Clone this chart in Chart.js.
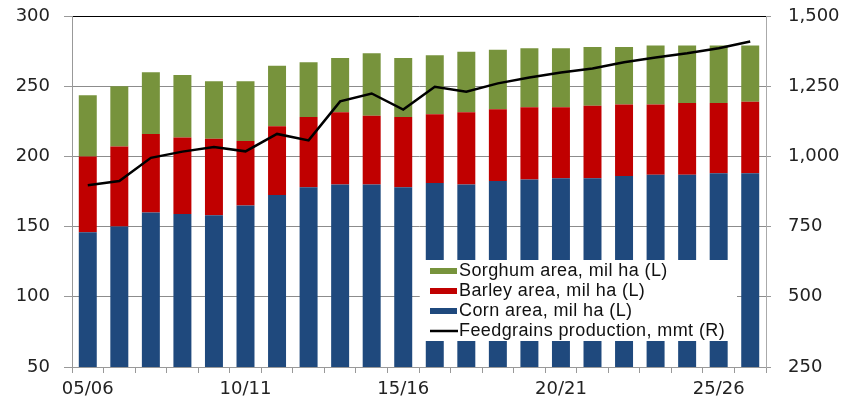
<!DOCTYPE html>
<html>
<head>
<meta charset="utf-8">
<script src="https://cdn.jsdelivr.net/npm/chart.js@4/dist/chart.umd.min.js"></script>
<style>
  body { margin: 0; background: #fff; }
  #wrap { width: 849px; height: 402px; }
</style>
</head>
<body>
<div id="wrap"><canvas id="mainChart" width="849" height="402"></canvas></div>
<script>
// marketing years, 05/06 .. 26/27
const seasons = ['05/06','06/07','07/08','08/09','09/10','10/11','11/12','12/13','13/14','14/15',
  '15/16','16/17','17/18','18/19','19/20','20/21','21/22','22/23','23/24','24/25','25/26','26/27'];

// areas, mil ha (left axis)
const cornArea    = [146, 150, 160, 159, 158, 165, 172.5, 178, 180, 180, 178, 181, 180, 182.5, 183.5, 184.5, 184.5, 186, 187, 187, 188, 188];
const barleyArea  = [54, 57, 56, 54.5, 54.5, 46, 49, 50, 51.5, 49, 50, 49, 51.5, 51, 51.5, 50.5, 51.5, 51, 50, 51, 50, 51];
const sorghumArea = [43.5, 43, 44, 44.5, 41, 42.5, 43, 39, 38.5, 44.5, 42, 42, 43, 42.5, 42, 42, 42, 41, 42, 41, 41, 40];

// feedgrains production, mmt (right axis)
const production = [897, 912, 995, 1017, 1033, 1018, 1080, 1057, 1196, 1224, 1167, 1248, 1230, 1260, 1281, 1299, 1313, 1335, 1352, 1367, 1385, 1409];

const leftTicks = [50, 100, 150, 200, 250, 300];
const rightTicks = [250, 500, 750, 1000, 1250, 1500];

const legendItems = [
  { text: 'Sorghum area, mil ha (L)', color: '#77933C', type: 'box' },
  { text: 'Barley area, mil ha (L)', color: '#C00000', type: 'box' },
  { text: 'Corn area, mil ha (L)', color: '#1F497D', type: 'box' },
  { text: 'Feedgrains production, mmt (R)', color: '#000000', type: 'line' }
];

// white legend box sitting over the bars, like the excel original
const legendBox = {
  id: 'legendBox',
  afterDatasetsDraw(chart) {
    const ctx = chart.ctx;
    ctx.save();
    ctx.fillStyle = '#fff';
    ctx.fillRect(420, 260, 317, 81);
    ctx.font = '18px "Liberation Sans", Arial, sans-serif';
    ctx.letterSpacing = '0.4px';
    ctx.textBaseline = 'middle';
    legendItems.forEach((item, i) => {
      const y = 270 + i * 20;
      if (item.type === 'box') {
        ctx.fillStyle = item.color;
        ctx.fillRect(430, y - 2, 27, 6);
      } else {
        ctx.strokeStyle = item.color;
        ctx.lineWidth = 2.5;
        ctx.beginPath();
        ctx.moveTo(430, y + 1);
        ctx.lineTo(458, y + 1);
        ctx.stroke();
      }
      ctx.fillStyle = '#111';
      ctx.fillText(item.text, 459, y + 1);
    });
    ctx.restore();
  }
};

const tickFont = { family: '"DejaVu Sans", sans-serif', size: 18 };

new Chart(document.getElementById('mainChart'), {
  type: 'bar',
  data: {
    labels: seasons,
    datasets: [
      {
        type: 'line',
        label: 'Feedgrains production, mmt (R)',
        data: production,
        yAxisID: 'y1',
        borderColor: '#000',
        borderWidth: 2.5,
        pointRadius: 0,
        tension: 0,
        order: 0
      },
      { label: 'Corn area, mil ha (L)', data: cornArea, backgroundColor: '#1F497D', stack: 'a', order: 1 },
      { label: 'Barley area, mil ha (L)', data: barleyArea, backgroundColor: '#C00000', stack: 'a', order: 1 },
      { label: 'Sorghum area, mil ha (L)', data: sorghumArea, backgroundColor: '#77933C', stack: 'a', order: 1 }
    ]
  },
  options: {
    responsive: false,
    animation: false,
    events: [],
    layout: { padding: { top: 16, left: 0, right: 0, bottom: 0 }, autoPadding: false },
    datasets: { bar: { barPercentage: 0.57, categoryPercentage: 1 } },
    plugins: { legend: { display: false }, tooltip: { enabled: false } },
    scales: {
      x: {
        stacked: true,
        afterFit(s) { s.height = 35; s.paddingLeft = 0; s.paddingRight = 0; },
        grid: { drawOnChartArea: false, offset: true, tickLength: 6, tickColor: '#999' },
        border: { color: '#999' },
        ticks: {
          autoSkip: false,
          maxRotation: 0,
          padding: 6,
          color: '#222',
          font: tickFont,
          callback: (v, i) => (i % 5 === 0 ? seasons[i] : '')
        }
      },
      y: {
        stacked: true,
        position: 'left',
        min: 50,
        max: 300,
        afterFit(s) { s.width = 72; s.paddingTop = 0; s.paddingBottom = 0; },
        afterBuildTicks(s) { s.ticks = leftTicks.map(v => ({ value: v })); },
        grid: {
          color: c => (c.tick && c.tick.value === 300 ? '#000' : '#8c8c8c'),
          tickColor: '#999',
          tickLength: 8
        },
        border: { color: '#999' },
        ticks: { padding: 14, color: '#222', font: tickFont }
      },
      y1: {
        position: 'right',
        min: 250,
        max: 1500,
        afterFit(s) { s.width = 83; s.paddingTop = 0; s.paddingBottom = 0; },
        afterBuildTicks(s) { s.ticks = rightTicks.map(v => ({ value: v })); },
        grid: { drawOnChartArea: false, tickColor: '#999', tickLength: 5 },
        border: { color: '#aaa' },
        ticks: {
          padding: 17,
          color: '#222',
          font: tickFont,
          callback: v => v.toLocaleString('en-US')
        }
      }
    }
  },
  plugins: [legendBox]
});
</script>
</body>
</html>
